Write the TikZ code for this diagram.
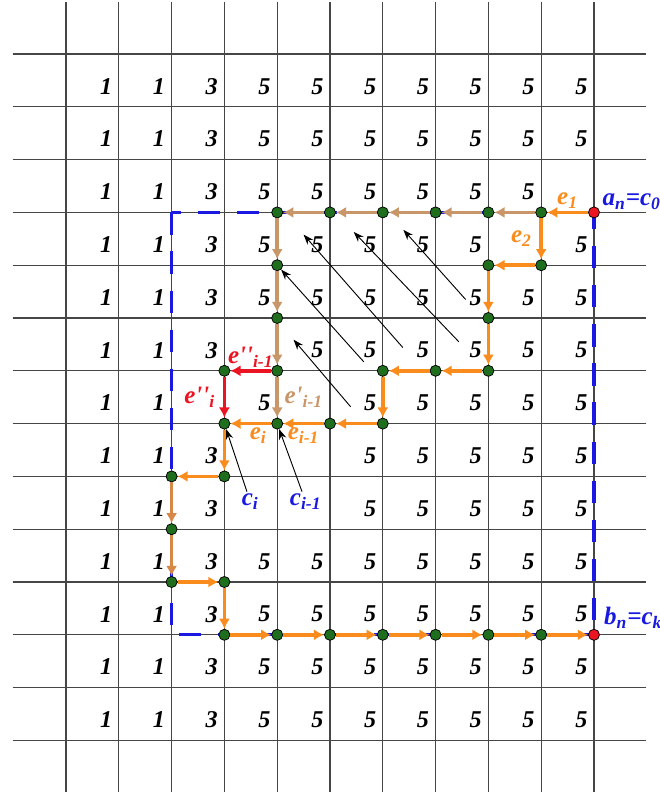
\documentclass[tikz,border=0pt]{standalone}
\usepackage{fontspec}
\setmainfont{Liberation Serif}
\usetikzlibrary{arrows.meta}
\definecolor{pathorange}{RGB}{250,140,30}
\definecolor{pathbrown}{RGB}{200,150,105}
\definecolor{pathred}{RGB}{235,20,35}
\definecolor{mixorange}{RGB}{215,135,70}
\definecolor{dotgreen}{RGB}{30,110,30}
\definecolor{labelblue}{RGB}{25,25,225}
\definecolor{gridgray}{RGB}{70,70,70}

\begin{document}
\begin{tikzpicture}[
num/.style={font=\fontsize{13}{13}\selectfont\bfseries\itshape, inner sep=0pt},
lab/.style={font=\fontsize{13.5}{14}\selectfont\bfseries\itshape, inner sep=1pt},
dot/.style={circle, draw=black, line width=0.4pt, fill=dotgreen, minimum size=0.21cm, inner sep=0pt},
enddot/.style={dot, fill=pathred},
edge/.style={line width=2pt, -{Latex[length=5.5pt,width=6pt]}},
oedge/.style={edge, pathorange},
bedge/.style={edge, pathbrown},
redge/.style={edge, pathred},
medge/.style={edge, mixorange},
bound/.style={labelblue, line width=1.8pt, dash pattern=on 0.42cm off 0.32cm},
ptr/.style={black, line width=0.5pt, -{Stealth[length=5.5pt,width=4pt]}} ]

\useasboundingbox (-1.25,1.023) rectangle (11.25,-14.11);

% grid
\foreach \x in {0,...,10} \draw[gridgray, line width=0.7pt] (\x,0.98) -- (\x,-13.98);
\foreach \y in {0,...,13} \draw[gridgray, line width=0.7pt] (-1.01,-\y) -- (10.99,-\y);

% cell values (cells holding a label stay empty)
\foreach \k in {2-9,3-8,5-3,6-2,6-4,7-3,7-4,8-3,8-4} {\expandafter\gdef\csname skip\k\endcsname{}}
\foreach \row in {0,...,12}
  \foreach \col/\val in {0/1,1/1,2/3,3/5,4/5,5/5,6/5,7/5,8/5,9/5}
    {\ifcsname skip\row-\col\endcsname\else
      \node[num] (n\row-\col) at (\col+0.76,-\row-0.61) {\val};\fi}

% boundary of the square
\coordinate (ul) at (2,-3);
\coordinate (ur) at (10,-3);
\coordinate (lr) at (10,-11);
\coordinate (ll) at (2,-11);
\draw[bound] (ul) -- (ll) -- (lr) -- (ur) -- cycle;

% vertices
\node[enddot] (c0) at (ur) {};
\node[enddot] (ck) at (lr) {};
\foreach \x/\y in {9/3,8/3,7/3,6/3,5/3,4/3,4/4,4/5,4/6,3/6,4/7,3/7,9/4,8/4,8/5,8/6,7/6,6/6,6/7,5/7,
  3/8,2/8,2/9,2/10,3/10,3/11,4/11,5/11,6/11,7/11,8/11,9/11}
  \node[dot] (v\x-\y) at (\x,-\y) {};

% brown path
\foreach \a/\b in {9-3/8-3,8-3/7-3,7-3/6-3,6-3/5-3,5-3/4-3,4-3/4-4,4-4/4-5,4-5/4-6}
  \draw[bedge] (v\a) -- (v\b);
\draw[bedge] (v4-6) -- node[right=2pt, lab, pathbrown] {e\textquotesingle\textsubscript{i-1}} (v4-7);

% orange path
\draw[oedge] (c0) -- node[above, lab, pathorange] {e\textsubscript{1}} (v9-3);
\draw[oedge] (v9-3) -- node[left=3pt, lab, pathorange] {e\textsubscript{2}} (v9-4);
\foreach \a/\b in {9-4/8-4,8-4/8-5,8-5/8-6,8-6/7-6,7-6/6-6,6-6/6-7,6-7/5-7}
  \draw[oedge] (v\a) -- (v\b);
\draw[oedge] (v5-7) -- node[below, lab, pathorange] {e\textsubscript{i-1}} (v4-7);
\draw[oedge] (v4-7) -- node[below, xshift=4pt, lab, pathorange] {e\textsubscript{i}} (v3-7);
\foreach \a/\b in {3-7/3-8,3-8/2-8}
  \draw[oedge] (v\a) -- (v\b);
\foreach \a/\b in {2-8/2-9,2-9/2-10}
  \draw[medge] (v\a) -- (v\b);
\foreach \a/\b in {2-10/3-10,3-10/3-11,3-11/4-11,4-11/5-11,5-11/6-11,6-11/7-11,7-11/8-11,8-11/9-11}
  \draw[oedge] (v\a) -- (v\b);
\draw[oedge] (v9-11) -- (ck);

% red path
\draw[redge] (v4-6) -- node[above, lab, pathred] {e\textquotesingle\textquotesingle\textsubscript{i-1}} (v3-6);
\draw[redge] (v3-6) -- node[left=3pt, lab, pathred] {e\textquotesingle\textquotesingle\textsubscript{i}} (v3-7);

% pointers
\coordinate (s1) at (5.39,-6.68); \coordinate (t1) at (4.31,-5.41);
\coordinate (s2) at (7.57,-4.65); \coordinate (t2) at (6.39,-3.33);
\coordinate (s3) at (7.44,-5.45); \coordinate (t3) at (5.45,-3.37);
\coordinate (s4) at (6.38,-5.56); \coordinate (t4) at (4.50,-3.42);
\coordinate (s5) at (5.64,-5.83);
\draw[ptr] (s1) -- (t1);
\draw[ptr] (s2) -- (t2);
\draw[ptr] (s3) -- (t3);
\draw[ptr] (s4) -- (t4);
\draw[ptr] (s5) -- (v4-4);

% vertex labels
\node[lab, labelblue] (ci) at (3.49,-8.48) {c\textsubscript{i}};
\node[lab, labelblue] (cim) at (4.54,-8.48) {c\textsubscript{i-1}};
\draw[ptr] (ci) -- (v3-7);
\draw[ptr] (cim) -- (v4-7);
\node[lab, labelblue, anchor=base west] (an) at (10.12,-2.86) {a\textsubscript{n}=c\textsubscript{0}};
\node[lab, labelblue, anchor=base west] (bn) at (10.15,-10.8) {b\textsubscript{n}=c\textsubscript{k}};
\end{tikzpicture}
\end{document}
